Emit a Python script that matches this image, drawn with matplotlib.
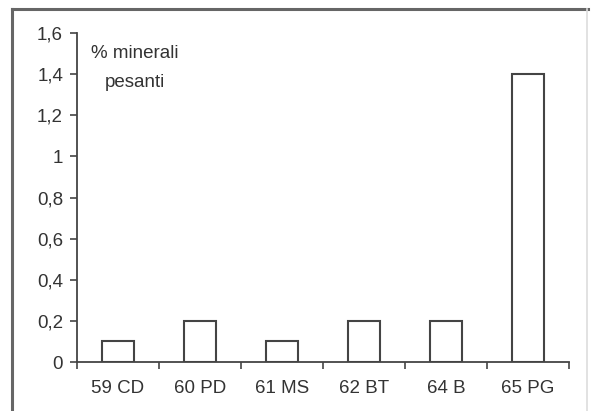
import matplotlib.pyplot as plt
from matplotlib.lines import Line2D
import numpy as np

# campioni e percentuale di minerali pesanti
campioni = ["59 CD", "60 PD", "61 MS", "62 BT", "64 B", "65 PG"]
minerali = [0.1, 0.2, 0.1, 0.2, 0.2, 1.4]
yticks = [0, 0.2, 0.4, 0.6, 0.8, 1, 1.2, 1.4, 1.6]
ylabels = ["0", "0,2", "0,4", "0,6", "0,8", "1", "1,2", "1,4", "1,6"]

plt.rcParams['font.family'] = ['Liberation Sans', 'DejaVu Sans']
ink = "#333333"

fig = plt.figure(figsize=(5.91, 4.11), dpi=100)
ax = fig.add_axes([0.1303, 0.1192, 0.8325, 0.8005])

x = np.arange(len(campioni))
ax.bar(x, minerali, width=0.40, color="white", edgecolor="#444444", linewidth=1.5)

ax.set_xlim(-0.5, len(campioni) - 0.5)
ax.set_ylim(0, 1.6)
ax.set_yticks(yticks)
ax.set_yticklabels(ylabels, fontsize=13.5, color=ink)
ax.set_xticks(x)
ax.set_xticklabels(campioni, fontsize=13.5, color=ink)
ax.set_xticks(np.arange(-0.5, len(campioni)), minor=True)

ax.tick_params(axis="x", which="major", length=0, pad=13)
ax.tick_params(axis="x", which="minor", length=5, width=1.2, color="#444444", direction="out")
ax.tick_params(axis="y", length=5, width=1.2, color="#444444", direction="out", pad=5)

for s in ["top", "right"]:
    ax.spines[s].set_visible(False)
for s in ["left", "bottom"]:
    ax.spines[s].set_color("#444444")
    ax.spines[s].set_linewidth(1.3)

ax.text(0.118, 0.939, "% minerali", transform=ax.transAxes, ha="center", va="center",
        fontsize=13.5, color=ink)
ax.text(0.118, 0.851, "pesanti", transform=ax.transAxes, ha="center", va="center",
        fontsize=13.5, color=ink)

# cornice della figura
fig.add_artist(Line2D([12 / 591, 12 / 591], [0, 1 - 9 / 411], color="#666666", lw=2.2))
fig.add_artist(Line2D([12 / 591, 588 / 591], [1 - 9 / 411, 1 - 9 / 411], color="#666666", lw=2.2))
fig.add_artist(Line2D([587 / 591, 587 / 591], [0, 1 - 9 / 411], color="#dddddd", lw=1.2))

plt.savefig("out.png", dpi=100)
